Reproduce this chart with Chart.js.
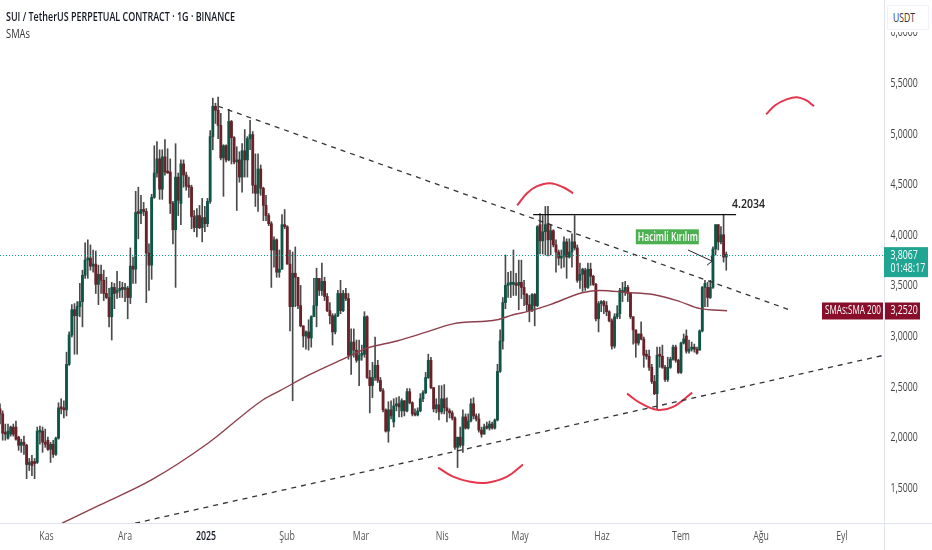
<!DOCTYPE html>
<html>
<head>
<meta charset="utf-8">
<title>SUI / TetherUS</title>
<script src="https://cdn.jsdelivr.net/npm/chart.js@4/dist/chart.umd.min.js"></script>
<style>
  body { margin: 0; background: #fff; }
  #wrap { position: relative; width: 932px; height: 550px; overflow: hidden; font-family: "Open Sans", sans-serif; }
  #title { position: absolute; left: 6px; top: 7px; font-size: 13px; font-weight: 600; color: #131722; white-space: nowrap; transform: scaleX(0.69); transform-origin: left top; }
  #sub { position: absolute; left: 6px; top: 24px; font-size: 13px; color: #333; transform: scaleX(0.72); transform-origin: left top; }
  #usdt { position: absolute; left: 885px; top: 0; width: 47px; height: 32px; background: #fff; }
  #usdtBox { position: absolute; left: 2px; top: 5px; width: 40px; height: 23px; border: 1px solid #f0f3fa; }
  #usdt span { position: absolute; left: 8px; top: 9px; font-size: 12px; color: #333; transform: scaleX(0.72); transform-origin: left top; }
  canvas { display: block; }
</style>
</head>
<body>
<div id="wrap">
  <canvas id="chart" width="932" height="550"></canvas>
  <div id="title">SUI / TetherUS PERPETUAL CONTRACT · 1G · BINANCE</div>
  <div id="sub">SMAs</div>
  <div id="usdt"><div id="usdtBox"></div><span>USDT</span></div>
</div>
<script>
// Mum verileri (gunluk)
const opens = [
  2.28,2.23,2.04,1.99,2.03,2.10,2.10,2.00,1.92,1.95,
  1.92,1.73,1.76,1.75,1.75,2.05,2.06,1.95,1.97,1.88,
  1.93,1.83,1.99,2.29,2.28,2.27,2.72,3.01,3.26,3.20,
  3.29,3.34,3.60,3.75,3.77,3.69,3.71,3.51,3.61,3.55,
  3.42,3.38,3.19,3.48,3.43,3.45,3.47,3.46,3.47,3.38,
  3.69,3.66,4.22,4.21,4.25,4.23,3.82,3.70,4.37,4.61,
  4.75,4.45,4.77,4.62,4.62,4.31,4.05,4.57,4.31,4.70,
  4.59,4.48,4.47,4.18,4.07,4.19,4.07,4.17,4.11,4.33,
  4.97,5.27,5.23,5.08,4.76,4.88,4.74,5.12,4.96,4.72,
  4.74,4.57,4.83,4.74,4.95,4.99,4.49,4.41,4.65,4.46,
  4.29,4.19,4.11,3.85,3.95,3.63,3.66,4.10,4.08,3.71,
  3.29,3.62,3.58,3.30,3.10,3.00,3.04,2.98,3.19,3.30,
  3.57,3.45,3.54,3.39,3.25,3.20,3.04,3.20,3.42,3.25,
  3.42,3.37,2.81,2.94,2.86,2.76,2.81,2.82,3.19,2.59,
  2.51,2.59,2.71,2.56,2.46,2.27,2.06,2.27,2.15,2.31,
  2.33,2.26,2.36,2.26,2.45,2.34,2.23,2.22,2.26,2.38,
  2.44,2.59,2.76,2.49,2.28,2.32,2.25,2.38,2.29,2.26,
  2.24,2.19,1.90,2.00,1.92,2.20,2.09,2.16,2.33,2.21,
  2.18,2.07,2.03,2.10,2.09,2.13,2.09,2.17,2.65,2.95,
  3.33,3.50,3.51,3.51,3.52,3.50,3.53,3.48,3.41,3.31,
  3.25,3.41,3.30,4.10,3.94,4.03,4.11,3.95,4.04,3.90,
  3.83,3.77,3.79,3.93,3.78,3.83,3.93,3.87,3.55,3.61,
  3.65,3.48,3.66,3.59,3.51,3.17,3.32,3.34,3.30,3.24,
  3.15,2.90,3.19,3.22,3.43,3.43,3.48,3.42,3.19,3.06,
  2.93,3.02,2.97,2.81,2.80,2.69,2.55,2.43,2.81,2.80,
  2.69,2.57,2.69,2.77,2.89,2.76,2.64,2.93,3.00,2.85,
  2.87,2.89,2.87,2.86,3.05,3.48,3.48,3.38,3.48,3.86,
  4.10,3.93,4.00,3.78
];
const closes = [
  2.23,2.04,2.03,2.06,2.10,2.03,1.98,1.92,1.95,1.92,
  1.73,1.74,1.72,1.74,2.06,2.06,1.95,1.93,1.88,1.93,
  1.83,1.99,2.29,2.28,2.27,2.72,3.01,3.26,3.20,3.29,
  3.34,3.60,3.75,3.77,3.69,3.71,3.51,3.61,3.55,3.42,
  3.38,3.19,3.48,3.42,3.45,3.47,3.46,3.47,3.38,3.69,
  3.66,4.22,4.21,4.25,4.23,3.82,3.70,4.37,4.61,4.75,
  4.45,4.77,4.62,4.61,4.31,4.05,4.57,4.34,4.70,4.59,
  4.48,4.47,4.18,4.07,4.19,4.07,4.17,4.11,4.33,4.97,
  5.27,5.23,5.08,4.76,4.88,4.74,5.12,4.96,4.72,4.74,
  4.57,4.83,4.74,4.95,4.99,4.49,4.41,4.65,4.46,4.29,
  4.19,4.11,3.85,3.95,3.63,3.66,4.10,4.08,3.71,3.29,
  3.62,3.58,3.30,3.10,3.00,3.04,2.98,3.19,3.30,3.57,
  3.45,3.54,3.39,3.25,3.20,3.04,3.20,3.42,3.25,3.42,
  3.37,2.81,2.94,2.86,2.76,2.81,2.82,3.19,2.59,2.51,
  2.59,2.71,2.56,2.46,2.27,2.06,2.27,2.21,2.31,2.33,
  2.30,2.36,2.26,2.45,2.34,2.23,2.22,2.26,2.38,2.44,
  2.59,2.76,2.49,2.28,2.32,2.25,2.38,2.29,2.26,2.24,
  2.19,1.90,2.00,1.92,2.20,2.09,2.16,2.33,2.21,2.18,
  2.07,2.03,2.10,2.09,2.13,2.09,2.17,2.65,2.95,3.33,
  3.50,3.51,3.51,3.52,3.50,3.53,3.48,3.41,3.31,3.25,
  3.41,3.30,4.08,3.94,4.03,4.10,3.95,4.04,3.90,3.83,
  3.77,3.79,3.93,3.78,3.83,3.93,3.87,3.55,3.61,3.66,
  3.48,3.66,3.59,3.51,3.17,3.32,3.34,3.30,3.24,3.15,
  2.90,3.19,3.22,3.45,3.45,3.48,3.42,3.19,3.06,2.93,
  3.02,2.97,2.81,2.80,2.69,2.55,2.43,2.81,2.80,2.69,
  2.57,2.69,2.77,2.89,2.76,2.64,2.93,2.97,2.85,2.87,
  2.89,2.87,2.83,3.05,3.48,3.52,3.38,3.48,3.86,4.10,
  3.93,4.00,3.78,3.8067
];
const highs = [
  2.33,2.26,2.13,2.13,2.11,2.13,2.16,2.01,1.98,2.01,
  1.93,1.79,1.82,1.79,2.10,2.11,2.10,2.08,2.00,1.95,
  1.97,2.00,2.34,2.38,2.36,2.84,3.04,3.31,3.32,3.34,
  3.52,3.65,3.92,3.95,3.90,3.85,3.84,3.70,3.70,3.65,
  3.58,3.47,3.53,3.52,3.64,3.54,3.53,3.52,3.49,3.87,
  3.78,4.43,4.47,4.39,4.32,4.26,3.91,4.40,4.88,4.92,
  4.84,4.84,4.94,4.85,4.75,4.33,4.90,4.61,4.74,4.74,
  4.62,4.57,4.49,4.24,4.26,4.29,4.36,4.28,4.36,5.03,
  5.35,5.30,5.36,5.20,4.89,4.89,5.24,5.13,4.97,4.87,
  4.82,4.90,5.04,4.97,5.13,5.02,4.80,4.80,4.69,4.47,
  4.39,4.21,4.13,3.98,3.96,3.85,4.20,4.25,4.09,3.85,
  3.83,3.88,3.58,3.50,3.10,3.05,3.16,3.20,3.57,3.67,
  3.57,3.72,3.58,3.42,3.33,3.22,3.22,3.45,3.55,3.45,
  3.47,3.42,3.07,3.07,2.96,2.96,2.91,3.24,3.20,2.66,
  2.74,2.99,2.76,2.59,2.48,2.28,2.35,2.36,2.38,2.39,
  2.40,2.38,2.36,2.48,2.48,2.35,2.28,2.29,2.43,2.46,
  2.64,2.82,2.79,2.49,2.38,2.51,2.51,2.52,2.39,2.28,
  2.26,2.20,2.00,2.10,2.27,2.23,2.23,2.38,2.39,2.23,
  2.23,2.10,2.13,2.15,2.16,2.15,2.18,2.72,3.06,3.38,
  3.80,3.63,3.64,3.85,3.62,3.75,3.75,3.55,3.42,3.40,
  3.42,3.42,4.09,4.21,4.19,4.28,4.28,4.10,4.05,3.95,
  3.85,3.85,3.98,3.96,3.96,4.01,4.19,3.90,3.72,3.67,
  3.67,3.72,3.72,3.60,3.52,3.34,3.35,3.35,3.34,3.25,
  3.17,3.22,3.30,3.47,3.53,3.54,3.50,3.43,3.19,3.06,
  3.02,3.14,2.99,2.86,2.86,2.72,2.61,2.89,2.89,2.91,
  2.71,2.79,2.79,2.91,2.91,2.77,2.94,3.02,3.06,2.96,
  2.94,2.92,2.89,3.06,3.49,3.55,3.53,3.55,3.88,4.10,
  4.10,4.08,4.2034,3.83
];
const lows = [
  2.13,1.97,1.97,1.98,2.01,2.01,1.97,1.87,1.85,1.83,
  1.59,1.67,1.62,1.59,1.74,1.93,1.85,1.90,1.87,1.75,
  1.80,1.82,1.98,2.23,2.19,2.21,2.71,2.99,2.82,2.82,
  3.19,3.09,3.57,3.57,3.65,3.63,3.42,3.31,3.42,3.35,
  3.37,3.09,2.96,3.27,3.37,3.38,3.38,3.34,3.17,3.32,
  3.52,3.52,3.96,4.11,4.19,3.33,3.45,3.56,4.36,4.57,
  4.35,4.35,4.59,4.61,4.21,3.91,3.48,4.19,4.10,4.47,
  4.44,4.37,4.06,4.03,3.98,4.06,3.93,4.03,4.08,4.31,
  4.84,5.10,4.95,4.74,4.38,4.72,4.73,4.70,4.70,4.24,
  4.52,4.42,4.57,4.57,4.84,4.41,4.28,4.23,4.39,4.14,
  4.14,4.09,3.48,3.68,3.58,3.58,3.66,4.06,3.71,3.05,
  2.36,3.29,3.27,3.09,2.89,2.87,2.86,2.89,3.29,3.09,
  3.40,3.40,3.35,3.24,3.12,2.91,3.02,3.19,3.22,3.24,
  3.35,2.77,2.62,2.79,2.74,2.51,2.76,2.79,2.58,2.24,
  2.39,2.56,2.54,2.45,2.25,2.05,1.95,2.18,2.10,2.26,
  2.20,2.20,2.21,2.25,2.33,2.21,2.21,2.21,2.25,2.35,
  2.43,2.58,2.48,2.25,2.24,2.17,2.23,2.23,2.15,2.19,
  2.17,1.88,1.70,1.90,1.85,2.08,2.08,2.15,2.18,2.16,
  2.05,2.00,2.03,2.08,2.07,2.08,2.08,2.16,2.64,2.87,
  3.27,3.38,3.38,3.40,3.40,3.26,3.37,3.30,3.25,3.14,
  3.24,3.10,3.29,3.81,3.81,3.80,3.79,3.80,3.88,3.63,
  3.70,3.67,3.68,3.57,3.77,3.68,3.85,3.53,3.47,3.44,
  3.45,3.47,3.50,3.50,3.15,3.04,3.24,3.22,3.20,3.14,
  2.87,2.88,3.17,3.17,3.34,3.40,3.34,3.17,2.92,2.79,
  2.91,2.96,2.69,2.77,2.66,2.53,2.42,2.28,2.69,2.68,
  2.55,2.55,2.68,2.76,2.74,2.63,2.63,2.92,2.83,2.83,
  2.85,2.84,2.82,2.86,3.04,3.29,3.29,3.37,3.47,3.80,
  3.85,3.91,3.73,3.65
];

// SMA 200
const smaBars = [23.3,37.6,57.1,78.2,98.9,105.3,115.8,130.5,138,149.2,160.5,170.3,186.8,192.9,198.1,206.8,219.2,225.6,235.7,245.5,254.5,263.2,273.3];
const smaValues = [1.15,1.33,1.58,1.94,2.37,2.46,2.61,2.79,2.88,2.95,3.04,3.12,3.16,3.21,3.24,3.31,3.43,3.45,3.43,3.41,3.35,3.27,3.25];

// Eksenler
const monthLabels = ['Kas','Ara','2025','Şub','Mar','Nis','May','Haz','Tem','Ağu','Eyl'];
const monthBars = [17.5,47,77.4,107.9,135.7,166.2,195.5,226.3,256,286.1,316.5];
const priceTicks = [1.5,2,2.5,3,3.5,4,4.5,5,5.5,6];

// Cizimler
const upperTrendBars = [82,297.7];
const upperTrendPrices = [5.27,3.25];
const lowerTrendBars = [50.8,332.3];
const lowerTrendPrices = [1.15,2.81];
const resistanceBars = [200.4,276.7];
const resistancePrices = [4.2,4.2];
const arcMayBars = [194.4,198.1,201.9,206.8,211.7,215.4];
const arcMayPrices = [4.29,4.41,4.48,4.51,4.47,4.41];
const arcAprBars = [164.7,170.3,176.7,183.1,190.6,196.6];
const arcAprPrices = [1.70,1.61,1.56,1.55,1.61,1.73];
const arcJunBars = [235.7,240.6,247,253,260.2];
const arcJunPrices = [2.43,2.34,2.27,2.30,2.44];
const arcAugBars = [288,291.4,295.9,299.6,303,306];
const arcAugPrices = [5.19,5.28,5.34,5.36,5.33,5.27];
const arrowBars = [258.6,267.7];
const arrowPrices = [3.85,3.74];
const arrowHeadBars = [267.3,267.7,265.8];
const arrowHeadPrices = [3.79,3.74,3.70];
const lastPriceLine = 3.795;
const xMax = 332.3;

const pts = (xs, ys) => xs.map((x, i) => ({ x: x, y: ys[i] }));

function lineSet(xs, ys, color, width, dash, tension) {
  return {
    type: 'line',
    data: pts(xs, ys),
    borderColor: color,
    borderWidth: width,
    borderDash: dash || [],
    pointRadius: 0,
    tension: tension || 0,
    order: 0
  };
}

const UP = '#0f5546';
const DOWN = '#6a2228';
const RED = '#e5364b';
const FONT = '"Open Sans", sans-serif';
const SQUEEZE = 0.73;

// Dar yazi: genisligi maxWidth ile daraltir
function narrowText(ctx, text, x, y) {
  ctx.fillText(text, x, y, ctx.measureText(text).width * SQUEEZE);
}

// Etiketler ve kenar cizgileri
const overlay = {
  id: 'overlay',
  beforeDraw(chart) {
    const { ctx, chartArea: a } = chart;
    ctx.save();
    ctx.strokeStyle = '#e0e3eb';
    ctx.lineWidth = 1;
    ctx.beginPath();
    ctx.moveTo(0, a.bottom + 0.5);
    ctx.lineTo(chart.width, a.bottom + 0.5);
    ctx.moveTo(a.right + 0.5, 0);
    ctx.lineTo(a.right + 0.5, chart.height);
    ctx.stroke();
    ctx.restore();
  },
  afterDraw(chart) {
    const { ctx, chartArea: a } = chart;
    const xs = chart.scales.x;
    const ys = chart.scales.y;
    ctx.save();
    ctx.textBaseline = 'middle';

    // eksen yazilari
    ctx.font = '12px ' + FONT;
    ctx.fillStyle = '#444';
    ctx.textAlign = 'left';
    priceTicks.forEach(v => {
      narrowText(ctx, v.toFixed(4).replace('.', ','), a.right + 6.5, ys.getPixelForValue(v) + 0.5);
    });
    ctx.textAlign = 'center';
    monthBars.forEach((v, i) => {
      ctx.font = (i === 2 ? '600 ' : '') + '12px ' + FONT;
      ctx.fillStyle = i === 2 ? '#131722' : '#555';
      narrowText(ctx, monthLabels[i], xs.getPixelForValue(v), 536.5);
    });
    ctx.textAlign = 'left';

    // son fiyat
    const py = ys.getPixelForValue(lastPriceLine);
    ctx.fillStyle = '#1fa592';
    ctx.fillRect(a.right, py - 8.4, 44, 30);
    ctx.fillStyle = '#fff';
    ctx.font = '12px ' + FONT;
    narrowText(ctx, '3,8067', a.right + 6.5, py);
    narrowText(ctx, '01:48:17', a.right + 6.5, py + 13.5);

    // SMA etiketi
    const sy = ys.getPixelForValue(3.252);
    ctx.fillStyle = '#880e2b';
    ctx.fillRect(822, sy - 8, 61, 17);
    ctx.fillRect(a.right + 1, sy - 8, 35, 17);
    ctx.fillStyle = '#fff';
    ctx.fillText('SMAs:SMA 200', 825, sy, 56);
    narrowText(ctx, '3,2520', a.right + 6.5, sy);

    // direnc degeri
    ctx.fillStyle = '#222';
    ctx.font = '600 12px ' + FONT;
    ctx.fillText('4.2034', xs.getPixelForValue(275.2), ys.getPixelForValue(4.3), 33);

    // not kutusu
    const bx = xs.getPixelForValue(239);
    const by = ys.getPixelForValue(3.98);
    ctx.fillStyle = '#4caf50';
    ctx.fillRect(bx, by - 7.5, 63, 15);
    ctx.fillStyle = '#fff';
    ctx.font = '600 12px ' + FONT;
    ctx.fillText('Hacimli Kırılım', bx + 2, by + 0.5, 60);
    ctx.restore();
  }
};

const smaLine = lineSet(smaBars, smaValues, '#8f3f4c', 1.4);
smaLine.cubicInterpolationMode = 'monotone';

new Chart(document.getElementById('chart'), {
  type: 'bar',
  data: {
    datasets: [
      lineSet(upperTrendBars, upperTrendPrices, '#333', 1.3, [5, 5]),
      lineSet(lowerTrendBars, lowerTrendPrices, '#333', 1.3, [5, 5]),
      lineSet(resistanceBars, resistancePrices, '#111', 1.3),
      smaLine,
      lineSet(arcMayBars, arcMayPrices, RED, 2, null, 0.4),
      lineSet(arcAprBars, arcAprPrices, RED, 2, null, 0.4),
      lineSet(arcJunBars, arcJunPrices, RED, 2, null, 0.4),
      lineSet(arcAugBars, arcAugPrices, RED, 2, null, 0.4),
      lineSet(arrowBars, arrowPrices, '#222', 1),
      lineSet(arrowHeadBars, arrowHeadPrices, '#222', 1),
      lineSet([0, xMax], [lastPriceLine, lastPriceLine], '#0d9d8a', 1, [1, 2]),
      {
        data: opens.map((o, i) => ({ x: i, y: [o, closes[i]] })),
        backgroundColor: opens.map((o, i) => closes[i] >= o ? UP : DOWN),
        barThickness: 2.2,
        minBarLength: 2,
        grouped: false,
        order: 1
      },
      {
        data: opens.map((o, i) => ({ x: i, y: [lows[i], highs[i]] })),
        backgroundColor: '#4a4a4a',
        barThickness: 1,
        grouped: false,
        order: 2
      }
    ]
  },
  options: {
    responsive: false,
    animation: false,
    layout: { padding: 0 },
    plugins: { legend: { display: false }, tooltip: { enabled: false } },
    scales: {
      x: {
        type: 'linear',
        offset: false,
        min: 0,
        max: xMax,
        grid: { display: false, drawTicks: false },
        border: { display: false },
        afterBuildTicks: s => { s.ticks = monthBars.map(v => ({ value: v })); },
        afterFit: s => { s.height = 27; s.paddingLeft = 0; s.paddingRight = 0; },
        ticks: { display: false }
      },
      y: {
        position: 'right',
        min: 1.152,
        max: 6.32,
        grid: { display: false, drawTicks: false },
        border: { display: false },
        afterBuildTicks: s => { s.ticks = priceTicks.map(v => ({ value: v })); },
        afterFit: s => { s.width = 48; s.paddingTop = 0; s.paddingBottom = 0; },
        ticks: { display: false }
      }
    }
  },
  plugins: [overlay]
});
</script>
</body>
</html>
